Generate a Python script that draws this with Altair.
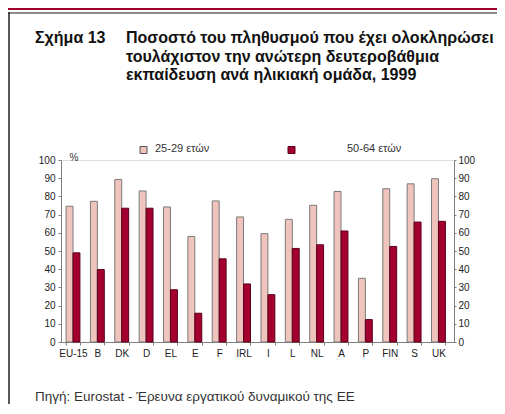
import altair as alt
import pandas as pd

countries = ["EU-15", "B", "DK", "D", "EL", "E", "F", "IRL", "I", "L", "NL", "A", "P", "FIN", "S", "UK"]
young = [74.6, 77.3, 89.3, 83.0, 74.2, 58.0, 77.5, 68.7, 59.5, 67.4, 75.1, 82.7, 35.0, 84.2, 86.9, 89.7]
old = [49.0, 39.8, 73.5, 73.5, 28.7, 15.8, 45.7, 31.9, 26.0, 51.4, 53.4, 61.0, 12.3, 52.5, 65.9, 66.3]
series = ["25-29 ετών", "50-64 ετών"]
y_ticks = [0, 10, 20, 30, 40, 50, 60, 70, 80, 90, 100]

fig_label = "Σχήμα 13"
title_lines = [
    "Ποσοστό του πληθυσμού που έχει ολοκληρώσει",
    "τουλάχιστον την ανώτερη δευτεροβάθμια",
    "εκπαίδευση ανά ηλικιακή ομάδα, 1999",
]
source_text = "Πηγή: Eurostat - Έρευνα εργατικού δυναμικού της ΕΕ"
unit_text = "%"

FONT = "Liberation Sans"
PINK = "#efc4bd"
RED = "#a3002f"

rows = []
for c, a, b in zip(countries, young, old):
    rows.append({"country": c, "series": series[0], "value": a})
    rows.append({"country": c, "series": series[1], "value": b})
df = pd.DataFrame(rows)

W, H = 393, 182

xscale = alt.Scale(paddingInner=0.43, paddingOuter=0.28, align=0.37)
yscale = alt.Scale(domain=[0, 100], nice=False)

bars = alt.Chart(df).mark_bar(strokeWidth=1).encode(
    x=alt.X("country:N", sort=countries, scale=xscale,
            axis=alt.Axis(title=None, labelAngle=0, tickBand="extent", tickSize=3,
                          labelPadding=3, labelFontSize=10, labelFont=FONT,
                          labelColor="#222222", domainColor="#7f7f7f", tickColor="#7f7f7f")),
    xOffset=alt.XOffset("series:N", sort=series, scale=alt.Scale(paddingInner=0, paddingOuter=0)),
    y=alt.Y("value:Q", scale=yscale,
            axis=alt.Axis(title=None, orient="left", values=y_ticks, grid=False, tickSize=3,
                          labelPadding=3, labelFontSize=10, labelFont=FONT, labelColor="#222222",
                          domainColor="#7f7f7f", tickColor="#7f7f7f")),
    color=alt.Color("series:N", sort=series, scale=alt.Scale(domain=series, range=[PINK, RED]), legend=None),
    stroke=alt.Stroke("series:N", sort=series, scale=alt.Scale(domain=series, range=["#7a7a7a", "#5a0019"]), legend=None),
)

right_axis = alt.Chart(df).mark_tick(opacity=0).encode(
    y=alt.Y("value:Q", scale=yscale,
            axis=alt.Axis(title=None, orient="right", values=y_ticks, grid=False, tickSize=2,
                          labelPadding=2, labelFontSize=10, labelFont=FONT, labelColor="#222222",
                          domainColor="#7f7f7f", tickColor="#7f7f7f")),
)

one = pd.DataFrame({"k": [0]})

red_line = alt.Chart(one).mark_rule(color="#a3002f", strokeWidth=2).encode(
    x=alt.value(-53), x2=alt.value(436), y=alt.value(-151))
gray_line = alt.Chart(one).mark_rule(color="#8c8c8c", strokeWidth=2).encode(
    x=alt.value(-53), x2=alt.value(436), y=alt.value(-147))
left_line = alt.Chart(one).mark_rule(color="#222222", strokeWidth=1.5).encode(
    x=alt.value(-52), y=alt.value(-148), y2=alt.value(250))


def label(text, x, y, size, bold=False, align="left", baseline="middle", color="#111111"):
    return alt.Chart(one).mark_text(
        font=FONT, fontSize=size, fontWeight="bold" if bold else "normal", align=align,
        baseline=baseline, color=color, text=text,
    ).encode(x=alt.value(x), y=alt.value(y))


fig_text = label(fig_label, -26, -122, 16, bold=True)
title_texts = [label(t, 65, yy, 16, bold=True) for t, yy in zip(title_lines, [-122, -103.5, -85])]

leg_sq1 = alt.Chart(one).mark_square(size=49, fill=PINK, stroke="#555555", strokeWidth=1, opacity=1).encode(
    x=alt.value(82.5), y=alt.value(-10))
leg_sq2 = alt.Chart(one).mark_square(size=49, fill=RED, stroke="#5a0019", strokeWidth=1, opacity=1).encode(
    x=alt.value(230.5), y=alt.value(-10))
leg_t1 = label(series[0], 94, -11, 11, color="#333333")
leg_t2 = label(series[1], 286, -11, 11, color="#333333")
unit = label(unit_text, 13, -2, 10, align="center", color="#333333")
source = label(source_text, -26, 241, 13.5, baseline="alphabetic", color="#333333")

chart = alt.layer(
    bars, right_axis, red_line, gray_line, left_line, fig_text, *title_texts,
    leg_sq1, leg_sq2, leg_t1, leg_t2, unit, source,
).resolve_scale(y="independent").resolve_axis(y="independent").properties(
    width=W, height=H,
    autosize=alt.AutoSizeParams(type="none"),
    padding={"left": 53, "top": 152, "right": 43, "bottom": 62},
).configure_view(stroke=None).configure(background="white")

chart.save("out.html", embed_options={"renderer": "svg", "actions": False})
